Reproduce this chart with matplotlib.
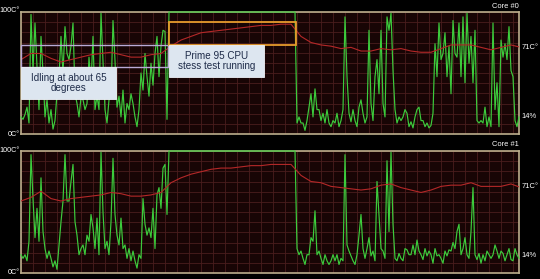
import numpy as np
import matplotlib
matplotlib.use("Agg")
import matplotlib.pyplot as plt
from matplotlib.patches import Rectangle

# ---------------- data (CPU load %, sampled every ~2 px of width) ----------------
core0_idle = [14, 12, 16, 22, 9, 98, 52, 91, 55, 20,
              80, 50, 14, 28, 9, 20, 4, 11, 33, 47,
              80, 50, 88, 66, 61, 72, 91, 33, 25, 14,
              30, 28, 20, 25, 63, 40, 80, 20, 31, 20,
              99, 60, 20, 9, 28, 31, 93, 60, 22, 31,
              14, 36, 9, 25, 20, 33, 25, 14, 6, 20,
              50, 36, 66, 47, 31, 58, 40, 66, 80, 47,
              72, 85, 84, 12]
stress_load = [100] * 64
core0_post = [9, 14, 9, 9, 3, 11, 22, 33, 14, 37,
              20, 20, 11, 17, 9, 20, 9, 6, 11, 9,
              17, 6, 11, 20, 96, 47, 17, 10, 20, 11,
              6, 22, 28, 17, 9, 14, 85, 25, 11, 47,
              61, 33, 85, 25, 14, 96, 85, 99, 52, 20,
              9, 14, 11, 14, 20, 17, 6, 10, 5, 14,
              20, 22, 11, 11, 6, 9, 5, 7, 17, 74,
              47, 91, 61, 66, 83, 47, 72, 33, 93, 66,
              63, 91, 47, 96, 42, 99, 58, 80, 42, 85,
              11, 9, 11, 9, 22, 6, 14, 6, 91, 20,
              42, 6, 77, 63, 74, 61, 88, 52, 47, 11,
              6, 14]
core1_idle = [15, 12, 15, 10, 26, 97, 61, 29, 53, 26,
              78, 34, 20, 12, 18, 12, 5, 10, 3, 23,
              42, 59, 97, 59, 59, 75, 89, 42, 31, 15,
              20, 23, 15, 31, 26, 48, 37, 20, 45, 15,
              99, 50, 20, 26, 15, 42, 94, 48, 31, 23,
              45, 20, 23, 12, 20, 10, 18, 10, 4, 15,
              12, 61, 40, 31, 37, 29, 53, 20, 64, 70,
              53, 86, 89, 48]
core1_post = [20, 15, 18, 12, 7, 15, 15, 29, 26, 51,
              15, 18, 12, 7, 15, 10, 7, 10, 15, 10,
              15, 7, 12, 10, 97, 23, 18, 14, 10, 7,
              15, 31, 48, 20, 12, 20, 29, 14, 18, 10,
              75, 48, 20, 18, 12, 92, 34, 99, 40, 12,
              10, 16, 12, 10, 20, 19, 15, 15, 23, 15,
              27, 18, 15, 11, 20, 14, 18, 15, 8, 20,
              14, 15, 12, 8, 18, 14, 19, 18, 25, 20,
              34, 40, 15, 20, 29, 15, 12, 34, 70, 15,
              11, 16, 8, 15, 10, 18, 15, 12, 15, 23,
              18, 12, 18, 16, 10, 15, 20, 11, 10, 20,
              15, 12]

# temperature (°C), one value every 5 load samples
core0_temp = [61, 66, 66, 62, 59, 61, 63, 65, 66, 67,
              65, 63, 63, 65, 66, 72, 77, 80, 83, 84,
              85, 86, 87, 88, 89, 89, 90, 90, 80, 75,
              73, 72, 70, 71, 68, 68, 70, 69, 70, 68,
              67, 67, 70, 73, 73, 73, 71, 69, 71, 73, 71]
core1_temp = [59, 62, 67, 61, 59, 61, 62, 63, 64, 66,
              65, 63, 63, 64, 66, 74, 78, 81, 83, 85,
              86, 86, 87, 88, 88, 89, 89, 89, 80, 75,
              74, 71, 70, 69, 68, 69, 72, 73, 70, 68,
              66, 68, 71, 72, 72, 74, 71, 71, 71, 73, 70]

core_names = ["Core #0", "Core #1"]
temp_label = "71C°"
load_label = "14%"
top_label = "100C°"
bottom_label = "0C°"
idle_note = "Idling at about 65\ndegrees"
stress_note = "Prime 95 CPU\nstess test running"

loads = [core0_idle + stress_load + core0_post,
         core1_idle + stress_load + core1_post]
temps = [core0_temp, core1_temp]

# ---------------- figure ----------------
W, H = 540, 279
fig = plt.figure(figsize=(W / 100, H / 100), dpi=100, facecolor="black")
font = ["Liberation Sans", "DejaVu Sans"]

def fx(px):
    return px / W

def fy(py):
    return 1 - py / H

panels = [(12, 134), (151, 273)]
L, R = 21, 519
axes = []
for i, (ytop, ybot) in enumerate(panels):
    ax = fig.add_axes([fx(L), fy(ybot), (R - L) / W, (ybot - ytop) / H])
    ax.set_facecolor("#180505")
    load = loads[i]
    temp = temps[i]
    x = np.arange(len(load))
    tx = np.arange(len(temp)) * 5
    ax.set_xlim(0, len(load) - 1)
    ax.set_ylim(0, 100)
    ax.set_xticks(np.arange(0, len(load), 6))
    ax.set_yticks(np.linspace(0, 100, 13))
    ax.grid(True, color="#4a1d1d", lw=0.6)
    ax.tick_params(length=0, labelbottom=False, labelleft=False)
    ax.plot(x, load, color="#3ccc3c", lw=0.85, clip_on=False, zorder=3)
    ax.plot(tx, temp, color="#b42828", lw=0.8, zorder=4)
    for s in ax.spines.values():
        s.set_color("#bcae8c")
        s.set_linewidth(1.2)
    # labels
    fig.text(fx(20), fy(ytop - 1), top_label, color="white", fontsize=5.2,
             ha="right", va="center", family=font)
    fig.text(fx(20), fy(ybot), bottom_label, color="white", fontsize=5.2,
             ha="right", va="center", family=font)
    fig.text(fx(R), fy(ytop - 6), core_names[i], color="white", fontsize=5.4,
             ha="right", va="center", family=font)
    ax.text(1.005, 0.71, temp_label, transform=ax.transAxes, color="white",
            fontsize=5.4, ha="left", va="center", family=font)
    ax.text(1.005, 0.14, load_label, transform=ax.transAxes, color="white",
            fontsize=5.4, ha="left", va="center", family=font)
    axes.append(ax)

ax = axes[0]
tr = ax.transAxes
# idle region outline
ax.add_patch(Rectangle((0, 0.55), 0.295, 0.18, transform=tr, fill=False,
                       edgecolor="#b9aad6", lw=1.0, zorder=6, clip_on=False))
# stress region outline
ax.add_patch(Rectangle((0.297, 0.73), 0.255, 0.19, transform=tr, fill=False,
                       edgecolor="#e79b2c", lw=1.3, zorder=6, clip_on=False))
# note boxes
ax.add_patch(Rectangle((0, 0.287), 0.191, 0.263, transform=tr,
                       facecolor="#dde6f0", edgecolor="#eef2f8", lw=0.6,
                       zorder=7, clip_on=False))
ax.add_patch(Rectangle((0.297, 0.467), 0.191, 0.263, transform=tr,
                       facecolor="#dde6f0", edgecolor="#eef2f8", lw=0.6,
                       zorder=7, clip_on=False))
ax.text(0.0955, 0.4185, idle_note, transform=tr, ha="center", va="center",
        fontsize=7.1, color="#1d2a48", family=font, zorder=8, linespacing=1.1)
ax.text(0.3925, 0.5985, stress_note, transform=tr, ha="center", va="center",
        fontsize=7.1, color="#1d2a48", family=font, zorder=8, linespacing=1.1)

fig.savefig("out.png", dpi=100, facecolor="black")
